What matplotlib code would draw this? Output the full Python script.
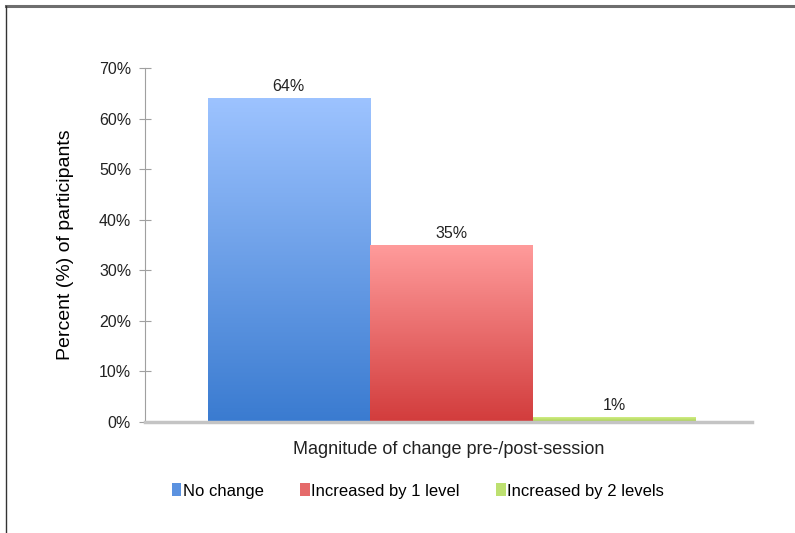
import matplotlib
matplotlib.use('Agg')
import matplotlib.pyplot as plt
from matplotlib.colors import LinearSegmentedColormap
from matplotlib.patches import Patch
from matplotlib.lines import Line2D
import numpy as np

plt.rcParams['font.family'] = ['Liberation Sans', 'DejaVu Sans']

categories   = ['No change', 'Increased by 1 level', 'Increased by 2 levels']
values       = [0.64, 0.35, 0.01]
value_labels = ['64%', '35%', '1%']
# (bottom colour, top colour)
grad_colors  = [('#3a7bd0', '#9dc3ff'),
                ('#d23c3c', '#ff9b9b'),
                ('#a6cf4e', '#d9f290')]
legend_colors = ['#5b92e0', '#e56a6a', '#bde070']

fig = plt.figure(figsize=(7.95, 5.33), dpi=100)
ax = fig.add_axes([145/795, 1-422/533, (752-145)/795, (422-68)/533])

bar_w = 0.268
offsets = (np.arange(len(values)) - 1) * bar_w + 0.005
grad = np.linspace(0, 1, 256).reshape(-1, 1)
for off, v, lab, (c0, c1) in zip(offsets, values, value_labels, grad_colors):
    x0, x1 = off - bar_w/2, off + bar_w/2
    cmap = LinearSegmentedColormap.from_list('g', [c0, c1])
    bar = ax.bar(off, v, width=bar_w, color='none', edgecolor='none')[0]
    im = ax.imshow(grad, cmap=cmap, origin='lower', aspect='auto',
                   extent=[x0, x1, 0, v], zorder=2)
    im.set_clip_path(bar)
    ax.text(off, v + 0.008, lab, ha='center', va='bottom', fontsize=11.5, color='#222222')

ax.set_xlim(-0.5, 0.5)
ax.set_ylim(0, 0.70)
ax.set_yticks(np.arange(0, 0.71, 0.1))
ax.set_yticklabels(['%d%%' % round(t*100) for t in np.arange(0, 0.71, 0.1)],
                   fontsize=11.5, color='#222222')
ax.set_xticks([])
ax.tick_params(axis='y', direction='inout', length=8, color='#a0a0a0', pad=6)
for s in ['top', 'right']:
    ax.spines[s].set_visible(False)
ax.spines['left'].set_color('#a0a0a0')
ax.spines['bottom'].set_color('#c4c4c4')
ax.spines['bottom'].set_linewidth(2.5)
ax.spines['bottom'].set_zorder(3)

ax.set_ylabel('Percent (%) of participants', fontsize=14, labelpad=18)
ax.set_xlabel('Magnitude of change pre-/post-session', fontsize=13, labelpad=14, color='#222222')

handles = [Patch(facecolor=c, edgecolor='none') for c in legend_colors]
fig.legend(handles, categories, loc='center', bbox_to_anchor=(418/795, 1-491/533),
           ncol=3, frameon=False, fontsize=12, handlelength=0.55, handleheight=0.8,
           handletextpad=0.1, columnspacing=2.2)

fig.add_artist(Line2D([5.5/795, 1], [1-6/533, 1-6/533], color='#6e6e6e', lw=2.2))
fig.add_artist(Line2D([6/795, 6/795], [0, 1-6/533], color='#333333', lw=1.0))

fig.savefig('out.png', dpi=100)
